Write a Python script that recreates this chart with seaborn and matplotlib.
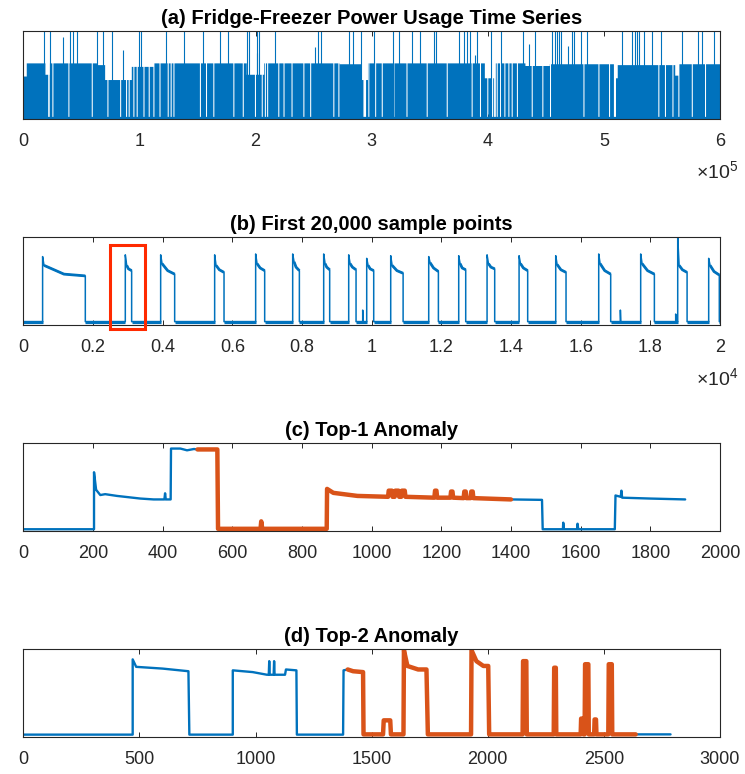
import numpy as np
import matplotlib
matplotlib.use("Agg")
import matplotlib.pyplot as plt
from matplotlib.patches import Rectangle
import seaborn as sns

# ---- (a) whole series, drawn as envelope + gaps + spikes (power in % of axis)
a_block_start = [0, 2500, 18500, 22500, 63000, 70000, 93000, 112000, 192000, 207000,
                 272000, 290600, 296300, 397000, 406000, 432000, 453000, 508600, 511500,
                 561000, 564000]
a_block_level = [49, 64, 51, 64, 62, 45, 60, 64, 51, 64,
                 63, 45, 64, 47, 64, 61, 63, 47, 62,
                 50, 63]
a_gaps = [21600, 25000, 38800, 58900, 72400, 83300, 88400, 90700, 94800, 97600,
          103400, 108000, 112000, 117200, 124300, 126900, 129200, 152100, 157300,
          163600, 180900, 188900, 199500, 205300, 208000, 210000, 219600, 224000,
          231000, 241200, 247000, 267000, 271300, 293600, 297100, 303000, 308700,
          318700, 330000, 347400, 364600, 386100, 393300, 399600, 403400, 405700,
          407700, 410500, 414300, 417700, 420600, 425000, 437800, 447000, 453600,
          482300, 495200, 504400, 509000, 546900, 552600, 559000, 564100, 575600,
          587100]
a_gap_width = [1400, 900, 900, 900, 900, 900, 900, 900, 900, 900,
               900, 900, 900, 900, 900, 900, 900, 900, 900,
               900, 900, 900, 900, 900, 900, 900, 900, 900,
               900, 900, 900, 900, 900, 2200, 900, 900, 900,
               900, 900, 900, 900, 900, 900, 900, 1500, 1500,
               900, 900, 900, 900, 900, 900, 900, 900, 900,
               900, 900, 900, 1800, 900, 900, 900, 900, 900,
               900]
a_spikes = [18100, 23300, 40200, 43100, 46500, 63200, 68600, 76700, 99400, 101400,
            122900, 138700, 154500, 169700, 176600, 192400, 194700, 201500, 203300,
            217000, 254000, 256400, 280800, 284200, 290600, 302300, 318700, 323800,
            334500, 341900, 354000, 355400, 375500, 379800, 381900, 385000, 391000,
            402800, 411700, 430000, 441000, 455000, 457700, 459400, 461100, 463400,
            472800, 474500, 480600, 485400, 515800, 524500, 526500, 528300, 530500,
            534800, 541700, 549200, 567300, 581000, 584800, 594600]
a_part_t = [34500, 86100, 201600, 250800, 389000, 435800, 468900]
a_part_v = [94, 79, 75, 82, 73, 86, 83]
a_base = 3

# ---- (b) first 20,000 samples: one entry per compressor cycle
b_rise = [554, 2928, 3943, 5493, 6670, 7733, 8623, 9341, 9858, 10547,
          11638, 12499, 13313, 14232, 15284, 16518, 17723, 18786, 19675]
b_fall = [1780, 3110, 4345, 5762, 6929, 7925, 8795, 9552, 10059, 10903,
          11916, 12700, 13532, 14479, 15580, 16862, 18116, 19055, 19980]
b_peak = [78, 80, 80, 80, 81, 81, 81, 80, 76, 79, 78, 79, 80, 79, 79, 81, 81, 100, 76]
b_drop = [68, 68, 70, 68, 70, 72, 70, 70, 68, 68, 71, 70, 70, 70, 69, 70, 70, 68, 68]
b_mid = [58, 64, 62, 63, 65, 66, 66, 66, 64, 62, 65, 65, 66, 65, 63, 62, 62, 63, 61]
b_end = [56, 62, 58, 60, 62, 62, 63, 63, 62, 59, 61, 63, 64, 62, 60, 58, 58, 60, 57]
b_spike_t = [9743, 17140, 18728]
b_spike_v = [17, 17, 12.5]
b_base = 3.8
box_x = [2500, 3480]
box_y = [-5, 91]

# ---- (c) top-1 anomaly window
c_t = [0, 203, 203, 209, 221, 235, 269, 336, 374, 405, 407, 409, 423, 424, 451, 470, 490,
       500, 557, 559, 681, 683, 686, 871, 872, 890, 959, 1047, 1049, 1058, 1060, 1066,
       1068, 1077, 1079, 1085, 1087, 1095, 1097, 1180, 1182, 1186, 1188, 1226, 1228,
       1232, 1234, 1264, 1266, 1270, 1272, 1284, 1286, 1290, 1292, 1400, 1489, 1491,
       1549, 1550, 1552, 1590, 1591, 1593, 1698, 1700, 1715, 1717, 1719, 1800, 1900]
c_v = [2, 2, 67, 47, 41, 42, 40, 37, 36, 36, 43, 36, 36, 94, 94, 92, 93.5,
       93, 93, 2.5, 2.5, 11, 2.5, 2.5, 48, 43.5, 40, 39, 46, 46, 39, 39,
       46, 46, 39, 39, 46, 46, 39, 38, 46, 46, 38, 38, 45,
       45, 38, 37.5, 45, 45, 37.5, 37.5, 45, 45, 37.5, 36, 35.5, 2,
       2, 9.5, 2, 2, 8.3, 2, 2, 40.5, 39, 46, 38, 37, 36]
c_anom = [500, 1400]

# ---- (d) top-2 anomaly window
d_t = [0, 471, 471, 486, 600, 711, 715, 902, 902, 988, 1049, 1057, 1059, 1061, 1078, 1080,
       1082, 1127, 1131, 1176, 1178, 1377, 1379, 1397, 1420, 1463, 1465, 1549, 1552, 1580,
       1583, 1637, 1639, 1654, 1700, 1736, 1742, 1928, 1930, 1951, 1981, 2002, 2006, 2150,
       2152, 2166, 2168, 2284, 2286, 2293, 2295, 2400, 2402, 2410, 2412, 2417, 2419, 2433,
       2435, 2458, 2460, 2466, 2468, 2519, 2521, 2534, 2536, 2637, 2787]
d_v = [2.7, 2.7, 88.5, 80, 78, 75, 2.7, 2.7, 76, 74, 71, 71, 86.5, 71, 71, 86.5,
       71, 71, 77, 76, 2.7, 2.7, 76, 77, 75, 74, 3, 3, 19, 19,
       3, 3, 99, 81, 77, 77, 3, 3, 99, 86.5, 81, 81, 3, 3,
       86.5, 86.5, 3, 3, 79, 79, 3, 3, 21, 21, 3, 3, 83, 83,
       3, 3, 20, 20, 3, 3, 83, 83, 3, 3, 3]
d_anom = [1397, 2637]

titles = ["(a) Fridge-Freezer Power Usage Time Series", "(b) First 20,000 sample points",
          "(c) Top-1 Anomaly", "(d) Top-2 Anomaly"]
xlims = [600000, 20000, 2000, 3000]
xticks = [np.arange(0, 600001, 100000), np.arange(0, 20001, 2000),
          np.arange(0, 2001, 200), np.arange(0, 3001, 500)]
xticklabels = [[str(i) for i in range(7)],
               ["0", "0.2", "0.4", "0.6", "0.8", "1", "1.2", "1.4", "1.6", "1.8", "2"],
               None, None]

BLUE = "#0072BD"
ORANGE = "#D95319"

sns.set_theme(style="white")
plt.rcParams["font.family"] = ["Liberation Sans", "DejaVu Sans"]
plt.rcParams["mathtext.fontset"] = "custom"
plt.rcParams["mathtext.rm"] = "Liberation Sans"


def b_series():
    ev = []
    for r, f, p, dr, m, e in zip(b_rise, b_fall, b_peak, b_drop, b_mid, b_end):
        ev.append([(r, b_base), (r, p), (r + 40, dr), ((r + f) / 2, m), (f, e), (f, b_base)])
    for t, v in zip(b_spike_t, b_spike_v):
        ev.append([(t, b_base), (t, v), (t + 10, b_base)])
    ev.sort(key=lambda g: g[0][0])
    pts = [(0, b_base)] + [p for g in ev for p in g] + [(20000, b_base)]
    return np.array(pts)


def window_plot(ax, t, v, anom):
    t = np.array(t, float)
    v = np.array(v, float)
    sns.lineplot(x=t, y=v, ax=ax, sort=False, estimator=None, color=BLUE, linewidth=1.7)
    m = (t >= anom[0]) & (t <= anom[1])
    sns.lineplot(x=t[m], y=v[m], ax=ax, sort=False, estimator=None, color=ORANGE, linewidth=3.2)


fig = plt.figure(figsize=(7.45, 7.74), dpi=100)
bottoms = [0.84625, 0.58010, 0.31395, 0.04780]
axes = [fig.add_axes([0.03128, b, 0.93517, 0.11331]) for b in bottoms]

# (a)
ax = axes[0]
grid = np.arange(0, 600000, 150)
lvl = np.array(a_block_level, float)[np.searchsorted(a_block_start, grid, side="right") - 1]
for g, w in zip(a_gaps, a_gap_width):
    lvl[(grid >= g - w / 2) & (grid < g + w / 2)] = a_base
ax.fill_between(grid, 0, lvl, step="post", color=BLUE, linewidth=0)
ax.vlines(a_spikes, 0, 100, color=BLUE, linewidth=0.8)
ax.vlines(a_part_t, 0, a_part_v, color=BLUE, linewidth=0.8)

# (b)
ax = axes[1]
pts = b_series()
sns.lineplot(x=pts[:, 0], y=pts[:, 1], ax=ax, sort=False, estimator=None, color=BLUE, linewidth=1.1)
off_start = [0] + b_fall
off_end = b_rise + [20000]
ax.hlines([b_base] * len(off_start), off_start, off_end, color=BLUE, linewidth=2.3)
for r, f, dr, m, e in zip(b_rise, b_fall, b_drop, b_mid, b_end):
    ax.plot([r + 40, (r + f) / 2, f], [dr, m, e], color=BLUE, linewidth=2.0,
            solid_capstyle="butt")
ax.add_patch(Rectangle((box_x[0], box_y[0]), box_x[1] - box_x[0], box_y[1] - box_y[0],
                       fill=False, edgecolor="#FF2A00", linewidth=2.2, clip_on=False, zorder=5))

# (c), (d)
window_plot(axes[2], c_t, c_v, c_anom)
window_plot(axes[3], d_t, d_v, d_anom)

for ax, title, xl, xt, xtl in zip(axes, titles, xlims, xticks, xticklabels):
    ax.set_xlim(0, xl)
    ax.set_ylim(0, 100)
    ax.set_yticks([])
    ax.set_xticks(xt)
    if xtl is not None:
        ax.set_xticklabels(xtl)
    ax.set_xlabel("")
    ax.set_ylabel("")
    ax.tick_params(axis="x", direction="in", length=3.5, width=0.7, top=True, bottom=True,
                   labelsize=13, pad=10, colors="#262626")
    for s in ax.spines.values():
        s.set_color("#262626")
        s.set_linewidth(0.8)
    ax.set_title(title, fontsize=14.5, fontweight="bold", pad=5, color="black")

fig.text(738 / 745, 1 - 171 / 774, r"$\mathregular{\times10^5}$", ha="right", va="center",
         fontsize=14, color="#262626")
fig.text(738 / 745, 1 - 378 / 774, r"$\mathregular{\times10^4}$", ha="right", va="center",
         fontsize=14, color="#262626")

fig.savefig("out.png", dpi=100)
